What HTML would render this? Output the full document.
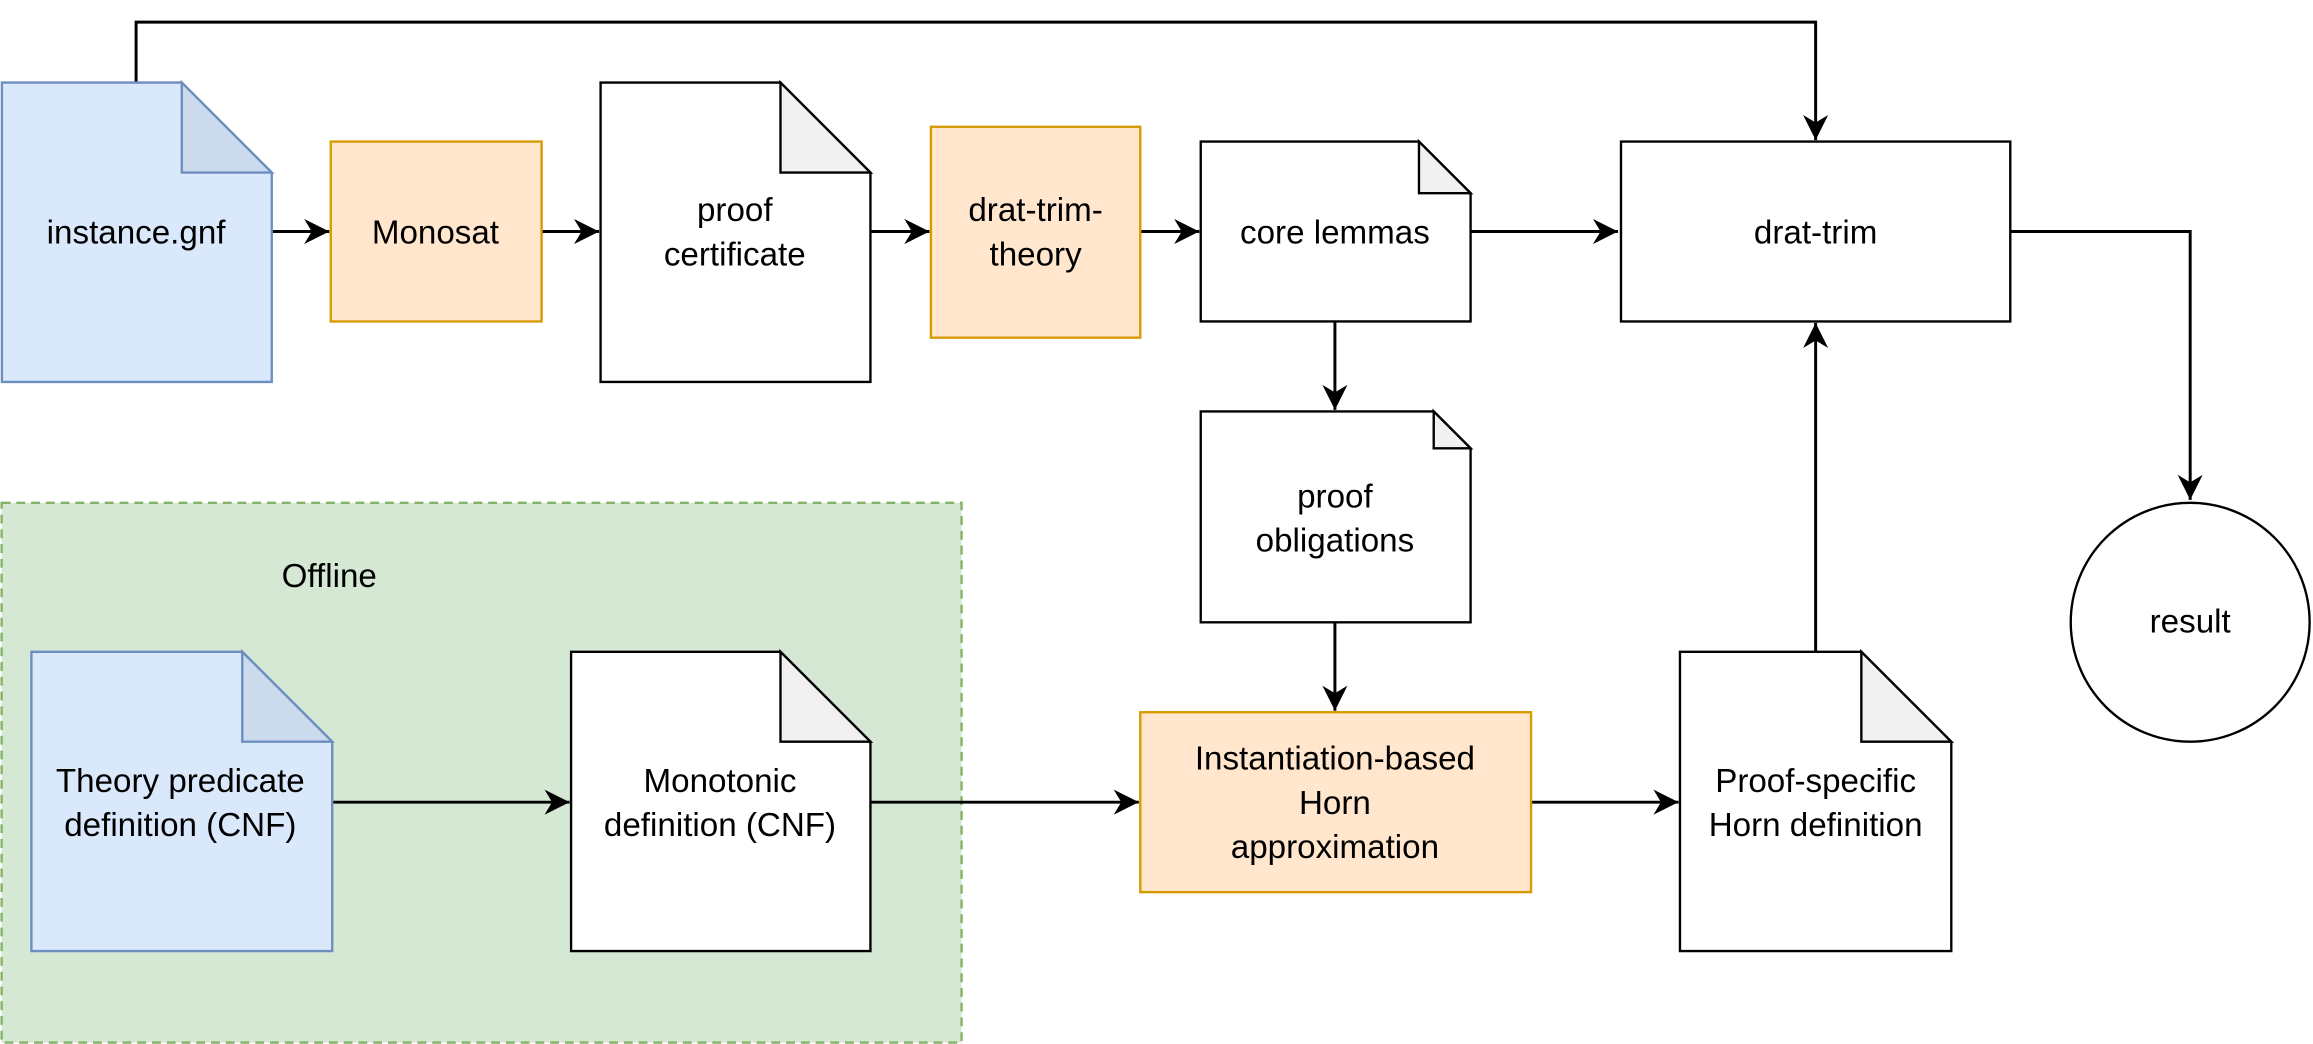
<!DOCTYPE html>
<html><head><meta charset="utf-8"><style>
html,body{margin:0;padding:0;background:#fff;}
svg{display:block;}
text{font-family:"Liberation Sans",Arial,sans-serif;font-size:22.5px;fill:#000;text-anchor:middle;}
</style></head><body>
<svg width="2313" height="1044" viewBox="0 0 1568 708" xmlns="http://www.w3.org/2000/svg">
<defs>
<marker id="a" viewBox="0 0 10 10" refX="10" refY="5" markerWidth="17" markerHeight="17" markerUnits="userSpaceOnUse" orient="auto">
<path d="M0,0 L10,5 L0,10 L3,5 Z" fill="#000"/>
</marker>
</defs>
<rect x="0.8" y="341" width="651" height="366" fill="#d5e8d4" stroke="#82b366" stroke-width="1.6" stroke-dasharray="6,4"/>
<text x="223" y="398">Offline</text>
<g stroke="#000" stroke-width="2" fill="none" marker-end="url(#a)">
<path d="M92,56 V15 H1231 V95"/>
<path d="M184,157 H223"/>
<path d="M367,157 H406"/>
<path d="M590,157 H630"/>
<path d="M773,157 H813"/>
<path d="M997,157 H1097"/>
<path d="M1363,157 H1485 V339"/>
<path d="M905,218 V278"/>
<path d="M905,422 V482"/>
<path d="M225,544 H386"/>
<path d="M590,544 H772"/>
<path d="M1038,544 H1138"/>
<path d="M1231,442 V219"/>
</g>
<path d="M1,56 H123 L184,117 V259 H1 Z" fill="#dae8fc" stroke="#6c8ebf" stroke-width="1.6"/>
<path d="M123,56 V117 H184 Z" fill="#ccdaee" stroke="#6c8ebf" stroke-width="1.6"/>
<text x="92" y="165">instance.gnf</text>
<rect x="224" y="96" width="143" height="122" fill="#ffe6cc" stroke="#d79b00" stroke-width="1.6"/>
<text x="295" y="165">Monosat</text>
<path d="M407,56 H529 L590,117 V259 H407 Z" fill="#fff" stroke="#000" stroke-width="1.6"/>
<path d="M529,56 V117 H590 Z" fill="#f1f1f1" stroke="#000" stroke-width="1.6"/>
<text x="498" y="150">proof</text><text x="498" y="180">certificate</text>
<rect x="631" y="86" width="142" height="143" fill="#ffe6cc" stroke="#d79b00" stroke-width="1.6"/>
<text x="702" y="150">drat-trim-</text><text x="702" y="180">theory</text>
<path d="M814,96 H962 L997,131 V218 H814 Z" fill="#fff" stroke="#000" stroke-width="1.6"/>
<path d="M962,96 V131 H997 Z" fill="#f1f1f1" stroke="#000" stroke-width="1.6"/>
<text x="905" y="165">core lemmas</text>
<rect x="1099" y="96" width="264" height="122" fill="#fff" stroke="#000" stroke-width="1.6"/>
<text x="1231" y="165">drat-trim</text>
<path d="M814,279 H972 L997,304 V422 H814 Z" fill="#fff" stroke="#000" stroke-width="1.6"/>
<path d="M972,279 V304 H997 Z" fill="#f1f1f1" stroke="#000" stroke-width="1.6"/>
<text x="905" y="344">proof</text><text x="905" y="374">obligations</text>
<path d="M21,442 H164 L225,503 V645 H21 Z" fill="#dae8fc" stroke="#6c8ebf" stroke-width="1.6"/>
<path d="M164,442 V503 H225 Z" fill="#ccdaee" stroke="#6c8ebf" stroke-width="1.6"/>
<text x="122" y="537">Theory predicate</text><text x="122" y="567">definition (CNF)</text>
<path d="M387,442 H529 L590,503 V645 H387 Z" fill="#fff" stroke="#000" stroke-width="1.6"/>
<path d="M529,442 V503 H590 Z" fill="#f1f1f1" stroke="#000" stroke-width="1.6"/>
<text x="488" y="537">Monotonic</text><text x="488" y="567">definition (CNF)</text>
<rect x="773" y="483" width="265" height="122" fill="#ffe6cc" stroke="#d79b00" stroke-width="1.6"/>
<text x="905" y="522">Instantiation-based</text><text x="905" y="552">Horn</text><text x="905" y="582">approximation</text>
<path d="M1139,442 H1262 L1323,503 V645 H1139 Z" fill="#fff" stroke="#000" stroke-width="1.6"/>
<path d="M1262,442 V503 H1323 Z" fill="#f1f1f1" stroke="#000" stroke-width="1.6"/>
<text x="1231" y="537">Proof-specific</text><text x="1231" y="567">Horn definition</text>
<circle cx="1485" cy="422" r="81" fill="#fff" stroke="#000" stroke-width="1.6"/>
<text x="1485" y="429">result</text>
</svg>
</body></html>
